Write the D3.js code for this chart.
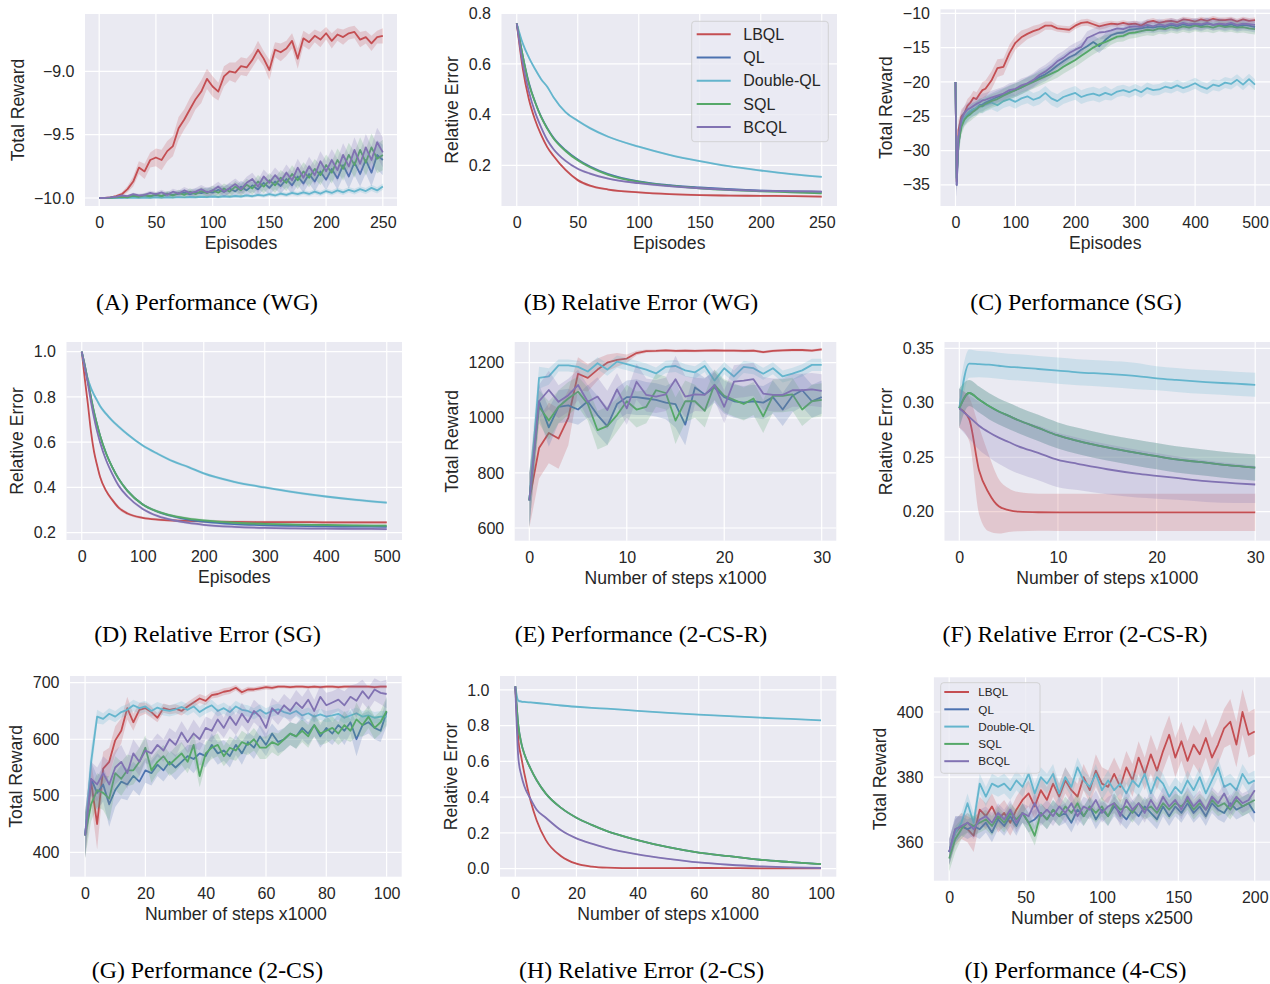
<!DOCTYPE html>
<html>
<head>
<meta charset="utf-8">
<script src="https://cdn.jsdelivr.net/npm/d3@7"></script>
<style>
body { margin: 0; background: #fff; }
svg text { font-family: "Liberation Sans", Arial, sans-serif; }
svg text.caption { font-family: "Liberation Serif", "Times New Roman", serif; }
</style>
</head>
<body>
<svg id="chart" width="1270" height="984"></svg>
<script>
// Methods and colours (seaborn "deep")
var methods = ["LBQL", "QL", "Double-QL", "SQL", "BCQL"];
var colors = ["#C44E52", "#4C72B0", "#64B5CD", "#55A868", "#8172B2"];

// ---- (A) Performance (WG)
var xA = [0,5,10,15,20,25,30,35,40,45,50,55,60,65,70,75,80,85,90,95,100,105,110,115,120,125,130,135,140,145,150,155,160,165,170,175,180,185,190,195,200,205,210,215,220,225,230,235,240,245,250];
var aLBQL = [-10,-10,-9.995,-9.985,-9.97,-9.93,-9.87,-9.76,-9.79,-9.7,-9.68,-9.7,-9.63,-9.59,-9.45,-9.38,-9.3,-9.22,-9.16,-9.06,-9.12,-9.16,-9.04,-9.0,-9.01,-8.96,-8.97,-8.91,-8.83,-8.9,-8.99,-8.83,-8.85,-8.82,-8.76,-8.9,-8.74,-8.77,-8.72,-8.75,-8.7,-8.76,-8.71,-8.73,-8.7,-8.69,-8.75,-8.73,-8.78,-8.73,-8.72];
var aQL = [-10,-10,-9.998,-9.994,-9.996,-9.99,-9.985,-9.992,-9.98,-9.986,-9.978,-9.985,-9.97,-9.976,-9.968,-9.958,-9.972,-9.955,-9.962,-9.95,-9.958,-9.935,-9.952,-9.925,-9.948,-9.91,-9.94,-9.9,-9.932,-9.88,-9.92,-9.87,-9.905,-9.85,-9.9,-9.83,-9.885,-9.81,-9.87,-9.79,-9.855,-9.77,-9.845,-9.74,-9.83,-9.72,-9.81,-9.7,-9.8,-9.66,-9.7];
var aDQL = [-10,-10,-10,-9.999,-9.998,-9.999,-9.997,-9.998,-9.996,-9.998,-9.995,-9.997,-9.994,-9.996,-9.993,-9.995,-9.992,-9.994,-9.99,-9.993,-9.988,-9.992,-9.986,-9.99,-9.984,-9.988,-9.98,-9.986,-9.975,-9.982,-9.97,-9.98,-9.965,-9.975,-9.96,-9.97,-9.955,-9.968,-9.95,-9.965,-9.945,-9.96,-9.94,-9.955,-9.935,-9.95,-9.93,-9.945,-9.92,-9.94,-9.91];
var aSQL = [-10,-10,-9.998,-9.995,-9.99,-9.995,-9.982,-9.99,-9.978,-9.986,-9.972,-9.985,-9.965,-9.98,-9.96,-9.975,-9.95,-9.97,-9.945,-9.962,-9.94,-9.958,-9.925,-9.95,-9.91,-9.94,-9.895,-9.925,-9.87,-9.91,-9.86,-9.9,-9.84,-9.88,-9.81,-9.86,-9.79,-9.84,-9.77,-9.82,-9.74,-9.8,-9.7,-9.77,-9.66,-9.74,-9.62,-9.72,-9.6,-9.69,-9.66];
var aBCQL = [-10,-10,-9.995,-9.99,-9.98,-9.985,-9.97,-9.98,-9.975,-9.96,-9.97,-9.955,-9.975,-9.95,-9.965,-9.94,-9.96,-9.95,-9.93,-9.955,-9.94,-9.91,-9.95,-9.92,-9.89,-9.93,-9.88,-9.85,-9.91,-9.83,-9.88,-9.82,-9.87,-9.8,-9.86,-9.76,-9.84,-9.75,-9.82,-9.71,-9.79,-9.7,-9.78,-9.66,-9.75,-9.62,-9.73,-9.6,-9.7,-9.56,-9.64];
var aSdRed = [0.003,0.003,0.005,0.01,0.015,0.025,0.04,0.05,0.06,0.06,0.07,0.08,0.08,0.08,0.09,0.08,0.09,0.08,0.09,0.08,0.08,0.07,0.08,0.07,0.08,0.07,0.07,0.06,0.07,0.06,0.08,0.06,0.07,0.06,0.06,0.08,0.06,0.06,0.05,0.06,0.05,0.06,0.05,0.06,0.05,0.05,0.06,0.05,0.06,0.05,0.06];
var aSdMid = [0.001,0.002,0.004,0.006,0.008,0.01,0.012,0.014,0.015,0.017,0.018,0.02,0.021,0.023,0.025,0.027,0.028,0.03,0.032,0.034,0.036,0.038,0.04,0.042,0.044,0.046,0.048,0.05,0.052,0.055,0.058,0.06,0.062,0.065,0.068,0.07,0.072,0.075,0.078,0.08,0.083,0.086,0.09,0.093,0.096,0.1,0.1,0.105,0.11,0.115,0.12];
var aSdCyan = [0.001,0.001,0.001,0.002,0.002,0.003,0.003,0.004,0.004,0.005,0.005,0.006,0.006,0.007,0.007,0.008,0.008,0.009,0.009,0.01,0.01,0.011,0.011,0.012,0.012,0.013,0.013,0.014,0.014,0.015,0.015,0.016,0.016,0.017,0.017,0.018,0.018,0.019,0.019,0.02,0.02,0.021,0.021,0.022,0.022,0.023,0.023,0.024,0.024,0.025,0.025];

// ---- (B) Relative Error (WG)
var xB = [0,5,10,15,20,25,30,40,50,60,75,100,125,150,175,200,225,250];
var bLBQL = [0.76,0.58,0.46,0.38,0.32,0.272,0.238,0.182,0.142,0.12,0.105,0.094,0.087,0.083,0.081,0.08,0.079,0.077];
var bQL = [0.76,0.63,0.525,0.45,0.392,0.347,0.31,0.26,0.223,0.196,0.166,0.137,0.122,0.113,0.106,0.101,0.098,0.096];
var bDQL = [0.76,0.68,0.625,0.58,0.54,0.51,0.47,0.41,0.376,0.347,0.313,0.274,0.242,0.217,0.196,0.18,0.166,0.155];
var bSQL = [0.76,0.63,0.52,0.45,0.39,0.345,0.307,0.257,0.22,0.193,0.163,0.135,0.12,0.11,0.103,0.098,0.094,0.09];
var bBCQL = [0.76,0.6,0.49,0.41,0.35,0.3,0.265,0.218,0.187,0.168,0.148,0.13,0.118,0.11,0.104,0.1,0.098,0.097];
var bSd = [0.003,0.006,0.006,0.006,0.006,0.006,0.005,0.005,0.005,0.005,0.004,0.004,0.004,0.004,0.004,0.004,0.004,0.004];

// ---- (C) Performance (SG)
var xC = [0,2,5,10,15,20,25,30,35,40,45,50,60,70,80,90,100,110,120,130,140,150,160,170,180,190,200,210,220,230,240,250,260,270,280,290,300,310,320,330,340,350,360,370,380,390,400,410,420,430,440,450,460,470,480,490,500];
var cLBQL = [-20,-34.5,-27,-25,-24.5,-23.5,-23,-22.3,-22.5,-21.8,-21.2,-21,-19.8,-18,-17.8,-15.8,-14.3,-13.5,-13,-12.6,-12.3,-11.8,-11.8,-12.2,-12.3,-12.4,-11.8,-11.4,-11.3,-11.6,-11.9,-11.7,-11.5,-11.6,-11.4,-11.6,-11.5,-11.8,-11.3,-11.1,-11.4,-11.2,-11.1,-11.3,-10.9,-11.0,-11.2,-10.9,-11.1,-10.8,-11.0,-11.0,-10.9,-11.2,-10.9,-11.1,-11.0];
var cQL = [-20,-35,-29,-26,-25.3,-24.8,-24.3,-24,-23.8,-23.4,-23.3,-23,-22.6,-22.2,-21.9,-21.5,-21.2,-20.8,-20.3,-19.9,-19.3,-18.9,-18.3,-17.6,-17,-16.4,-16,-15.3,-14.8,-14.2,-14.8,-13.9,-13.2,-12.9,-12.8,-12.4,-12.3,-12.2,-12.0,-12.1,-11.9,-12.0,-11.7,-11.9,-11.6,-11.8,-11.6,-11.8,-11.5,-11.7,-11.6,-11.8,-11.6,-11.9,-11.7,-11.8,-12.0];
var cDQL = [-20,-34,-28,-26,-25.2,-24.6,-24.2,-24,-23.8,-23.5,-23.6,-23.3,-23,-23.4,-22.8,-22.5,-22.9,-22.4,-22.1,-22.6,-22.3,-21.6,-22.4,-22.8,-22.2,-21.9,-21.6,-22.2,-21.9,-21.7,-22,-21.6,-21.9,-21.4,-21.2,-21.5,-21.1,-21.5,-20.9,-21.2,-21.1,-20.7,-20.9,-20.5,-20.9,-20.6,-20.2,-20.7,-21,-20.4,-20.6,-20.1,-20.3,-19.7,-20.4,-19.6,-20.4];
var cSQL = [-20,-34,-29,-26.5,-25.5,-25,-24.7,-24.3,-24,-23.6,-23.5,-23.2,-22.8,-22.5,-22,-21.6,-21.2,-20.8,-20.4,-20,-19.6,-19.2,-18.8,-18.4,-17.8,-17.3,-16.8,-16.2,-15.6,-15,-14.5,-14.2,-13.8,-13.4,-13.3,-12.9,-12.8,-12.6,-12.4,-12.5,-12.2,-12.3,-12.0,-12.2,-11.9,-12.1,-11.8,-12.0,-11.9,-12.1,-11.8,-12.0,-11.9,-12.1,-12.0,-12.2,-12.3];
var cBCQL = [-20,-35,-28,-25.5,-24.5,-24,-23.8,-23.5,-23.2,-23,-22.7,-22.6,-22.3,-22,-21.7,-21.2,-21,-20.5,-20.2,-19.7,-19,-18.5,-17.8,-17,-16.5,-15.8,-15.3,-14.9,-13.6,-13.2,-12.8,-12.7,-12.5,-12.2,-12.3,-12.0,-11.9,-12.0,-11.7,-11.9,-11.6,-11.8,-11.5,-11.7,-11.4,-11.6,-11.5,-11.6,-11.4,-11.7,-11.5,-11.6,-11.4,-11.7,-11.5,-11.6,-11.7];
var cSdRed = [0.3,1.5,1.5,1,1,1,1,1,1,1,1.2,1.2,1.3,1.3,1.2,1.2,1,1,0.8,0.8,0.7,0.6,0.6,0.5,0.5,0.5,0.5,0.5,0.5,0.5,0.5,0.5,0.4,0.4,0.4,0.4,0.4,0.4,0.4,0.4,0.4,0.4,0.4,0.4,0.4,0.4,0.4,0.4,0.4,0.4,0.4,0.4,0.4,0.4,0.4,0.4,0.4];
var cSd = [0.3,1.8,1.8,1.2,1,1,1,1,1,1,1,1,1,1,1,1,1,1,1,1,1,1,1,1,1,1,1,1,1,1,1,1,0.8,0.8,0.8,0.8,0.8,0.8,0.8,0.8,0.8,0.8,0.8,0.8,0.8,0.8,0.8,0.8,0.8,0.8,0.8,0.8,0.8,0.8,0.8,0.8,0.8];

// ---- (D) Relative Error (SG)
var xD = [0,5,10,15,20,25,30,40,50,60,75,100,125,150,175,200,250,300,350,400,450,500];
var dLBQL = [1.0,0.88,0.77,0.65,0.56,0.5,0.447,0.385,0.345,0.312,0.285,0.266,0.258,0.254,0.252,0.25,0.248,0.247,0.247,0.246,0.246,0.246];
var dQL = [1.0,0.94,0.87,0.8,0.735,0.68,0.63,0.55,0.49,0.44,0.385,0.325,0.292,0.272,0.258,0.249,0.238,0.233,0.23,0.228,0.227,0.226];
var dDQL = [1.0,0.93,0.88,0.84,0.81,0.785,0.76,0.725,0.695,0.67,0.635,0.585,0.548,0.515,0.49,0.462,0.425,0.4,0.378,0.36,0.345,0.333];
var dSQL = [1.0,0.94,0.87,0.8,0.735,0.68,0.63,0.55,0.49,0.44,0.385,0.325,0.293,0.274,0.262,0.254,0.244,0.239,0.236,0.234,0.232,0.231];
var dBCQL = [1.0,0.93,0.86,0.78,0.71,0.65,0.6,0.52,0.46,0.41,0.36,0.305,0.273,0.255,0.243,0.235,0.226,0.221,0.219,0.218,0.217,0.216];
var dSd = [0.004,0.008,0.01,0.01,0.01,0.01,0.01,0.008,0.008,0.008,0.007,0.006,0.006,0.006,0.006,0.006,0.006,0.006,0.006,0.006,0.006,0.006];

// ---- (E) Performance (2-CS-R)
var xE = [0,1,2,3,4,5,6,7,8,9,10,11,12,13,14,15,16,17,18,19,20,21,22,23,24,25,26,27,28,29,30];
var eLBQL = [700,890,945,925,1000,1160,1145,1175,1200,1210,1215,1235,1242,1243,1245,1243,1244,1243,1244,1245,1244,1244,1243,1244,1238,1243,1245,1246,1246,1244,1248];
var eQL = [700,1060,965,1040,1045,1030,1060,1010,970,1050,1075,1075,1070,1065,1055,1050,975,1110,1085,1110,1075,1060,1055,1060,1055,1075,1030,1080,1100,1060,1075];
var eDQL = [700,1145,1150,1190,1190,1185,1168,1198,1175,1204,1195,1185,1175,1161,1185,1188,1172,1165,1188,1135,1180,1150,1185,1180,1160,1180,1150,1160,1172,1192,1192];
var eSQL = [700,1040,990,1040,1070,1095,1050,955,970,1010,1060,1030,1040,1100,1090,990,1060,1060,1025,1120,1080,1065,1050,1070,1005,1080,1080,1085,1030,1060,1065];
var eBCQL = [700,1060,1101,1058,1082,1119,1058,1077,1028,1103,1034,1131,1083,1077,1085,1140,1077,1085,1083,1119,1040,1131,1135,1140,1088,1083,1083,1100,1100,1103,1098];
var eSdRed = [100,110,110,110,100,60,50,40,30,25,15,8,6,5,5,5,5,5,5,5,5,5,5,5,5,5,5,5,5,5,5];
var eSdCyan = [100,40,30,22,22,22,22,22,22,22,22,22,22,22,22,22,22,22,22,30,22,22,22,22,22,22,22,22,22,22,22];
var eSdMid = [100,60,70,60,60,55,60,70,70,60,60,65,60,60,60,85,75,60,60,55,60,60,60,60,60,60,60,60,60,60,60];

// ---- (F) Relative Error (2-CS-R)
var xF = [0,1,2,3,4,5,6,8,10,12,15,18,20,22,25,28,30];
var fLBQL = [0.295,0.285,0.238,0.217,0.205,0.2015,0.2,0.1995,0.1994,0.1994,0.1994,0.1994,0.1994,0.1994,0.1994,0.1994,0.1994];
var fQL = [0.295,0.309,0.303,0.297,0.292,0.288,0.284,0.277,0.27,0.265,0.259,0.254,0.251,0.248,0.245,0.242,0.2405];
var fDQL = [0.295,0.336,0.3355,0.335,0.334,0.333,0.3325,0.331,0.3295,0.328,0.3265,0.3245,0.3225,0.321,0.319,0.3175,0.3165];
var fSQL = [0.295,0.309,0.303,0.297,0.292,0.288,0.284,0.277,0.27,0.265,0.259,0.254,0.251,0.248,0.245,0.242,0.2405];
var fBCQL = [0.295,0.287,0.279,0.273,0.268,0.264,0.26,0.254,0.2475,0.244,0.239,0.235,0.233,0.231,0.228,0.226,0.225];
var fSdRed = [0.018,0.02,0.04,0.035,0.025,0.02,0.018,0.017,0.017,0.017,0.017,0.017,0.017,0.017,0.017,0.017,0.017];
var fSdCyan = [0.017,0.013,0.012,0.012,0.012,0.012,0.012,0.012,0.012,0.012,0.012,0.012,0.011,0.011,0.011,0.011,0.011];
var fSdGreen = [0.018,0.012,0.012,0.012,0.012,0.012,0.012,0.012,0.012,0.012,0.012,0.012,0.012,0.012,0.012,0.012,0.012];
var fSdPurple = [0.018,0.02,0.022,0.023,0.024,0.025,0.025,0.025,0.025,0.024,0.023,0.022,0.021,0.02,0.019,0.018,0.017];

// ---- (G) Performance (2-CS)
var xG = [0,2,4,6,8,10,12,14,16,18,20,22,24,26,28,30,32,34,36,38,40,42,44,46,48,50,52,54,56,58,60,62,64,66,68,70,72,74,76,78,80,82,84,86,88,90,92,94,96,98,100];
var gLBQL = [430,525,450,548,560,598,615,655,630,652,655,648,638,655,652,654,650,658,665,672,668,678,680,684,686,691,683,688,688,690,692,691,693,693,692,693,693,692,693,692,693,693,692,693,693,693,693,693,692,693,693];
var gQL = [430,530,505,520,485,510,525,520,535,525,545,540,555,545,560,550,560,570,565,575,570,590,575,580,570,590,575,595,585,605,590,610,595,600,610,605,620,610,625,605,620,610,625,615,630,600,625,630,620,615,648];
var gDQL = [430,560,640,636,645,640,648,652,660,655,658,650,656,652,650,653,657,652,658,648,655,660,650,655,648,658,652,650,645,652,645,650,653,648,645,650,642,646,640,644,640,642,645,638,642,646,640,642,638,640,640];
var gSQL = [430,485,510,505,495,540,530,545,545,560,585,545,560,570,555,565,575,560,590,535,575,585,590,570,585,580,595,590,600,585,585,595,590,600,610,605,615,605,625,610,615,620,610,625,615,635,625,640,620,630,650];
var gBCQL = [430,530,520,540,520,550,560,540,575,560,580,575,590,580,600,590,612,595,610,600,620,615,635,620,640,625,645,630,650,640,620,655,645,660,650,665,655,670,650,675,660,665,670,660,675,668,685,672,688,682,680];
var gSdRed = [40,35,45,30,25,25,22,20,15,12,10,10,8,8,8,8,8,8,8,8,8,6,6,6,6,5,5,5,4,4,4,4,3,3,3,3,3,3,3,3,3,3,3,3,3,3,3,3,3,3,3];
var gSdCyan = [40,25,12,10,10,10,10,10,10,10,10,10,10,10,10,10,10,10,10,10,10,10,10,10,10,10,10,10,10,10,10,10,10,10,10,10,10,10,10,10,10,10,10,10,10,10,10,10,10,10,10];
var gSdMid = [40,30,30,30,40,30,30,28,25,25,22,22,20,20,20,22,20,20,25,20,20,20,20,18,20,18,20,18,20,20,20,18,20,20,20,22,20,20,20,20,22,20,20,25,20,30,20,20,20,20,25];

// ---- (H) Relative Error (2-CS)
var xH = [0,1,2,3,5,7,10,15,20,25,30,40,50,60,70,80,90,100];
var hLBQL = [1.02,0.72,0.62,0.53,0.38,0.27,0.16,0.07,0.028,0.012,0.006,0.003,0.003,0.004,0.003,0.002,0.002,0.002];
var hQL = [1.02,0.8,0.7,0.64,0.56,0.495,0.42,0.34,0.285,0.245,0.21,0.16,0.12,0.09,0.07,0.05,0.037,0.025];
var hDQL = [1.02,0.94,0.935,0.933,0.93,0.927,0.922,0.913,0.906,0.9,0.895,0.883,0.872,0.862,0.853,0.845,0.838,0.83];
var hSQL = [1.02,0.8,0.7,0.64,0.56,0.495,0.42,0.34,0.285,0.245,0.21,0.16,0.12,0.09,0.07,0.05,0.037,0.025];
var hBCQL = [1.02,0.62,0.52,0.46,0.39,0.33,0.285,0.215,0.17,0.14,0.115,0.08,0.055,0.035,0.022,0.013,0.007,0.004];
var hSd = [0.005,0.01,0.008,0.006,0.005,0.005,0.005,0.005,0.004,0.004,0.004,0.004,0.004,0.004,0.004,0.004,0.004,0.004];

// ---- (I) Performance (4-CS)
var xI = [0,4,8,12,16,20,24,28,32,36,40,44,48,52,56,60,64,68,72,76,80,84,88,92,96,100,104,108,112,116,120,124,128,132,136,140,144,148,152,156,160,164,168,172,176,180,184,188,192,196,200];
var iLBQL = [357,363,365,364,362,370,368,371,367,369,366,370,373,375,371,376,373,378,374,379,376,374,380,376,382,378,377,381,377,383,379,386,381,387,382,388,393,386,391,385,390,387,392,386,390,395,397,390,400,393,394];
var iQL = [357,364,365,364,365,364,366,363,367,365,368,365,369,366,367,369,367,370,368,369,366,370,368,371,367,370,368,371,369,367,370,368,371,369,367,371,368,371,369,372,369,371,368,372,370,369,372,370,371,372,369];
var iDQL = [357,363,366,372,366,378,374,378,377,378,376,379,377,381,375,380,378,381,375,380,377,383,379,377,381,376,379,376,378,375,379,377,381,375,380,378,374,377,375,379,376,380,375,379,383,377,378,376,381,378,379];
var iSQL = [355,361,364,366,365,366,367,365,368,366,369,367,369,366,362,369,367,370,368,371,369,372,368,371,369,371,368,372,370,371,369,372,370,371,369,372,370,372,371,373,370,372,370,373,371,372,370,373,371,372,373];
var iBCQL = [357,364,365,366,364,367,368,366,369,367,370,366,369,368,372,368,370,368,371,369,372,368,371,370,373,369,371,372,368,373,370,372,369,373,370,374,371,373,370,374,371,373,370,374,372,375,371,374,372,373,376];
var iSdRed = [4,4,4,4,5,4,4,4,4,4,4,4,4,4,4,4,4,4,4,4,4,4,4,4,5,5,5,5,5,5,5,5,5,6,6,6,6,6,6,6,6,6,6,6,6,6,7,7,7,7,7];
var iSd = [4,4,3,3,3,3,3,3,3,3,3,3,3,3,3,3,3,3,3,3,3,3,3,3,3,3,3,3,3,3,3,3,3,3,3,3,3,3,3,3,3,3,3,3,3,3,3,3,3,3,3];

// Tick values
var ticks250 = [0,50,100,150,200,250];
var ticks500 = [0,100,200,300,400,500];
var ticks30 = [0,10,20,30];
var ticks100 = [0,20,40,60,80,100];
var ticks200 = [0,50,100,150,200];

// Panel layout + which arrays go where
var panels = [
  { id:"A", caption:"(A) Performance (WG)", capX:207, capY:310,
    box:{l:85, t:14, r:397, b:206}, xd:[-12.5,262.5], yd:[-10.063,-8.548],
    xTicks:ticks250, yTicks:[-10,-9.5,-9], yFmt:".1f", xLabel:"Episodes", yLabel:"Total Reward", smooth:false,
    x:xA, series:[aLBQL,aQL,aDQL,aSQL,aBCQL], sd:[aSdRed,aSdMid,aSdCyan,aSdMid,aSdMid] },
  { id:"B", caption:"(B) Relative Error (WG)", capX:641, capY:310,
    box:{l:501.5, t:14, r:837, b:206}, xd:[-12.5,262.5], yd:[0.04,0.797],
    xTicks:ticks250, yTicks:[0.2,0.4,0.6,0.8], yFmt:".1f", xLabel:"Episodes", yLabel:"Relative Error", smooth:true,
    x:xB, series:[bLBQL,bQL,bDQL,bSQL,bBCQL], sd:[bSd,bSd,bSd,bSd,bSd],
    legend:{x:691.7, y:21.3, w:136.6, h:120.4, y0:34.3, step:23.2, l1:5, l2:39, tx:51.6, fs:16} },
  { id:"C", caption:"(C) Performance (SG)", capX:1076, capY:310,
    box:{l:940.5, t:9.3, r:1270, b:206}, xd:[-25,525], yd:[-38.08,-9.42],
    xTicks:ticks500, yTicks:[-35,-30,-25,-20,-15,-10], yFmt:"d", xLabel:"Episodes", yLabel:"Total Reward", smooth:false,
    x:xC, series:[cLBQL,cQL,cDQL,cSQL,cBCQL], sd:[cSdRed,cSd,cSd,cSd,cSd] },
  { id:"D", caption:"(D) Relative Error (SG)", capX:207.5, capY:641.5,
    box:{l:66.5, t:342, r:402, b:540}, xd:[-25,525], yd:[0.1677,1.0429],
    xTicks:ticks500, yTicks:[0.2,0.4,0.6,0.8,1.0], yFmt:".1f", xLabel:"Episodes", yLabel:"Relative Error", smooth:true,
    x:xD, series:[dLBQL,dQL,dDQL,dSQL,dBCQL], sd:[dSd,dSd,dSd,dSd,dSd] },
  { id:"E", caption:"(E) Performance (2-CS-R)", capX:641, capY:641.5,
    box:{l:514.7, t:342, r:836.3, b:540.7}, xd:[-1.5,31.5], yd:[553.9,1275.1],
    xTicks:ticks30, yTicks:[600,800,1000,1200], yFmt:"d", xLabel:"Number of steps x1000", yLabel:"Total Reward", smooth:false,
    x:xE, series:[eLBQL,eQL,eDQL,eSQL,eBCQL], sd:[eSdRed,eSdMid,eSdCyan,eSdMid,eSdMid] },
  { id:"F", caption:"(F) Relative Error (2-CS-R)", capX:1075, capY:641.5,
    box:{l:944.5, t:342, r:1270, b:540.7}, xd:[-1.5,31.5], yd:[0.1734,0.3558],
    xTicks:ticks30, yTicks:[0.2,0.25,0.3,0.35], yFmt:".2f", xLabel:"Number of steps x1000", yLabel:"Relative Error", smooth:true,
    x:xF, series:[fLBQL,fQL,fDQL,fSQL,fBCQL], sd:[fSdRed,fSdGreen,fSdCyan,fSdGreen,fSdPurple] },
  { id:"G", caption:"(G) Performance (2-CS)", capX:207.5, capY:978,
    box:{l:70, t:676, r:401.7, b:876.7}, xd:[-5,105], yd:[356.8,711.85],
    xTicks:ticks100, yTicks:[400,500,600,700], yFmt:"d", xLabel:"Number of steps x1000", yLabel:"Total Reward", smooth:false,
    x:xG, series:[gLBQL,gQL,gDQL,gSQL,gBCQL], sd:[gSdRed,gSdMid,gSdCyan,gSdMid,gSdMid] },
  { id:"H", caption:"(H) Relative Error (2-CS)", capX:641.7, capY:978,
    box:{l:500, t:676, r:836.3, b:876.7}, xd:[-5,105], yd:[-0.0448,1.078],
    xTicks:ticks100, yTicks:[0,0.2,0.4,0.6,0.8,1.0], yFmt:".1f", xLabel:"Number of steps x1000", yLabel:"Relative Error", smooth:true,
    x:xH, series:[hLBQL,hQL,hDQL,hSQL,hBCQL], sd:[hSd,hSd,hSd,hSd,hSd] },
  { id:"I", caption:"(I) Performance (4-CS)", capX:1075.5, capY:978,
    box:{l:933.9, t:677.3, r:1270, b:880.7}, xd:[-10,210], yd:[348.2,410.65],
    xTicks:ticks200, yTicks:[360,380,400], yFmt:"d", xLabel:"Number of steps x2500", yLabel:"Total Reward", smooth:false,
    x:xI, series:[iLBQL,iQL,iDQL,iSQL,iBCQL], sd:[iSdRed,iSd,iSd,iSd,iSd],
    legend:{x:940.7, y:682.7, w:99.3, h:90.6, y0:692, step:17.3, l1:3.6, l2:28.3, tx:37.6, fs:11.7} }
];

var svg = d3.select("#chart");
var defs = svg.append("defs");
var textColor = "#262626";

panels.forEach(function(p) {
  var b = p.box;
  var x = d3.scaleLinear().domain(p.xd).range([b.l, b.r]);
  var y = d3.scaleLinear().domain(p.yd).range([b.b, b.t]);
  var g = svg.append("g").attr("class", "panel-" + p.id);

  defs.append("clipPath").attr("id", "clip" + p.id)
      .append("rect").attr("x", b.l).attr("y", b.t).attr("width", b.r - b.l).attr("height", b.b - b.t);

  // background
  g.append("rect")
   .attr("x", b.l).attr("y", b.t)
   .attr("width", b.r - b.l).attr("height", b.b - b.t)
   .attr("fill", "#EAEAF2");

  // grid lines
  g.selectAll(".gx").data(p.xTicks).enter().append("line")
   .attr("x1", function(d) { return x(d); }).attr("x2", function(d) { return x(d); })
   .attr("y1", b.t).attr("y2", b.b)
   .attr("stroke", "#fff").attr("stroke-width", 1.2);
  g.selectAll(".gy").data(p.yTicks).enter().append("line")
   .attr("x1", b.l).attr("x2", b.r)
   .attr("y1", function(d) { return y(d); }).attr("y2", function(d) { return y(d); })
   .attr("stroke", "#fff").attr("stroke-width", 1.2);

  // bands + lines, in legend order
  var curve = p.smooth ? d3.curveMonotoneX : d3.curveLinear;
  var plot = g.append("g").attr("clip-path", "url(#clip" + p.id + ")");
  var area = d3.area().curve(curve)
               .x(function(d) { return x(d.x); })
               .y0(function(d) { return y(d.lo); })
               .y1(function(d) { return y(d.hi); });
  var line = d3.line().curve(curve)
               .x(function(d) { return x(d.x); })
               .y(function(d) { return y(d.v); });

  p.series.forEach(function(vals, k) {
    var sd = p.sd[k];
    var pts = p.x.map(function(xv, i) {
      var s = sd[i] !== undefined ? sd[i] : sd[sd.length - 1];
      return { x: xv, v: vals[i], lo: vals[i] - s, hi: vals[i] + s };
    });
    plot.append("path").attr("d", area(pts))
        .attr("fill", colors[k]).attr("fill-opacity", 0.22).attr("stroke", "none");
    plot.append("path").attr("d", line(pts))
        .attr("fill", "none").attr("stroke", colors[k])
        .attr("stroke-width", 1.8).attr("stroke-linejoin", "round");
  });

  // axes
  var xAxis = g.append("g")
    .attr("transform", "translate(0," + b.b + ")")
    .call(d3.axisBottom(x).tickValues(p.xTicks).tickSize(0).tickPadding(11).tickFormat(d3.format("d")));
  xAxis.select(".domain").remove();
  xAxis.selectAll("text").attr("font-size", 16).attr("fill", textColor);

  var yAxis = g.append("g")
    .attr("transform", "translate(" + b.l + ",0)")
    .call(d3.axisLeft(y).tickValues(p.yTicks).tickSize(0).tickPadding(10.5).tickFormat(d3.format(p.yFmt)));
  yAxis.select(".domain").remove();
  yAxis.selectAll("text").attr("font-size", 16).attr("fill", textColor);

  // axis labels
  g.append("text")
   .attr("x", (b.l + b.r) / 2).attr("y", b.b + 42.8)
   .attr("text-anchor", "middle").attr("font-size", 17.6).attr("fill", textColor)
   .text(p.xLabel);

  var minLeft = d3.min(yAxis.selectAll("text").nodes(), function(n) { return n.getBBox().x; });
  var labX = b.l + minLeft - 16.5;
  var labY = (b.t + b.b) / 2;
  g.append("text")
   .attr("transform", "translate(" + (labX + 6) + "," + labY + ") rotate(-90)")
   .attr("text-anchor", "middle").attr("font-size", 17.6).attr("fill", textColor)
   .text(p.yLabel);

  // caption
  g.append("text")
   .attr("class", "caption")
   .attr("x", p.capX).attr("y", p.capY)
   .attr("text-anchor", "middle")
   .attr("font-size", 23.8).attr("fill", "#000")
   .text(p.caption);

  // legend
  if (p.legend) {
    var L = p.legend;
    var lg = g.append("g");
    lg.append("rect")
      .attr("x", L.x).attr("y", L.y).attr("width", L.w).attr("height", L.h).attr("rx", 3)
      .attr("fill", "#EAEAF2").attr("fill-opacity", 0.8)
      .attr("stroke", "#cccccc").attr("stroke-width", 0.8);
    methods.forEach(function(m, i) {
      var cy = L.y0 + i * L.step;
      lg.append("line")
        .attr("x1", L.x + L.l1).attr("x2", L.x + L.l2)
        .attr("y1", cy).attr("y2", cy)
        .attr("stroke", colors[i]).attr("stroke-width", 2);
      lg.append("text")
        .attr("x", L.x + L.tx).attr("y", cy + L.fs * 0.36)
        .attr("font-size", L.fs).attr("fill", textColor)
        .text(m);
    });
  }
});
</script>
</body>
</html>
